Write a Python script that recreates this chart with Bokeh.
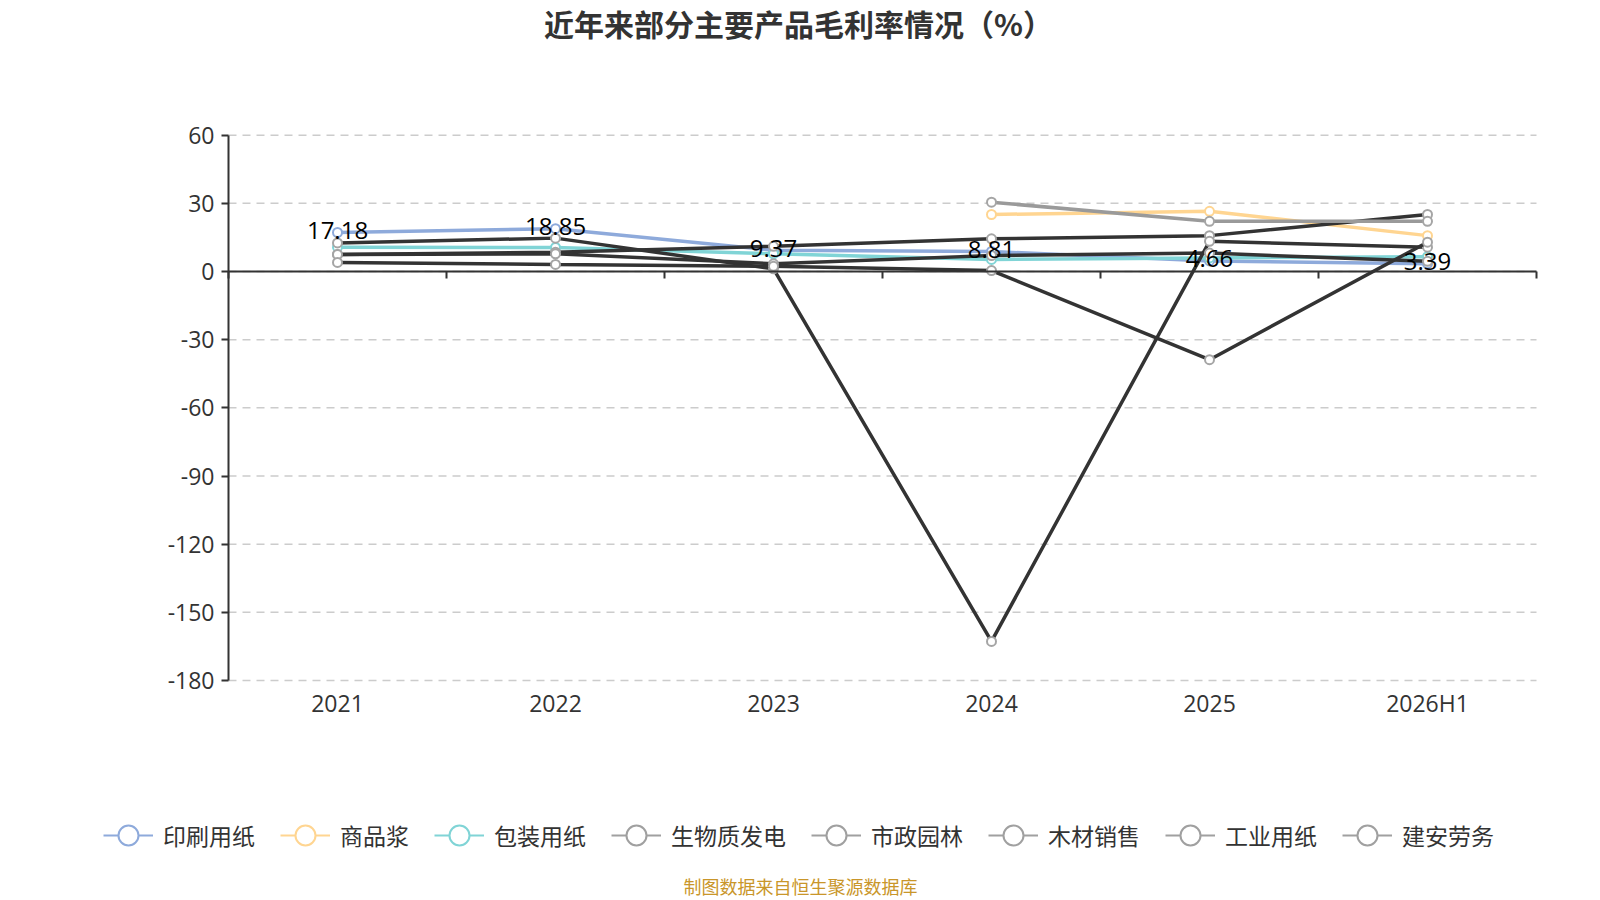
from bokeh.plotting import figure
from bokeh.models import (Range1d, FixedTicker, LinearAxis, Label, Legend,
                          LegendItem, ColumnDataSource)
from bokeh.core.properties import value
from bokeh.embed import file_html
from bokeh.resources import INLINE

nan = float("nan")

# ---------------- data ----------------
categories = ["2021", "2022", "2023", "2024", "2025", "2026H1"]
series_names = ["印刷用纸", "商品浆", "包装用纸", "生物质发电", "市政园林", "木材销售", "工业用纸", "建安劳务"]

printing_paper = [17.18, 18.85, 9.37, 8.81, 4.66, 3.39]
market_pulp = [nan, nan, nan, 25.1, 26.5, 15.8]
packaging_paper = [10.7, 10.6, 7.8, 5.3, 6.0, 6.5]
biomass_power = [7.5, 8.5, 11.1, 14.4, 15.8, 25.1]
municipal_garden = [12.6, 14.7, 1.2, -162.8, 13.3, 10.7]
timber_sales = [nan, nan, nan, 30.5, 22.1, 22.1]
industrial_paper = [7.5, 7.8, 3.4, 7.0, 8.1, 4.5]
construction_labor = [4.0, 3.1, 2.3, 0.4, -38.8, 12.9]

y_ticks = [-180, -150, -120, -90, -60, -30, 0, 30, 60]

all_series = [printing_paper, market_pulp, packaging_paper, biomass_power,
              municipal_garden, timber_sales, industrial_paper, construction_labor]
line_colors = ["#8EAADB", "#FFD591", "#80D4D6", "#333333", "#333333", "#9A9A9A", "#333333", "#333333"]
marker_colors = ["#8EAADB", "#FFD591", "#80D4D6", "#A5A5A5", "#A5A5A5", "#A5A5A5", "#A5A5A5", "#A5A5A5"]
legend_colors = ["#8EAADB", "#FFD591", "#80D4D6", "#A0A0A0", "#A0A0A0", "#A0A0A0", "#A0A0A0", "#A0A0A0"]

FONT = "Noto Sans CJK SC"
NUM_FONT = "Open Sans"

# ---------------- layout (pixels) ----------------
W, H = 1600, 900
AREA_L, AREA_R, AREA_T, AREA_B = 228, 1536, 134.7, 680

n = len(categories)
x_idx = list(range(n))
x_lo, x_hi = -0.5, n - 0.5
y_lo, y_hi = min(y_ticks), max(y_ticks)
xpu = (AREA_R - AREA_L) / (x_hi - x_lo)
ypu = (AREA_B - AREA_T) / (y_hi - y_lo)

p = figure(width=W, height=H, output_backend="svg", toolbar_location=None,
           x_axis_type=None, y_axis_type=None,
           x_range=Range1d(x_lo - AREA_L / xpu, x_hi + (W - AREA_R) / xpu),
           y_range=Range1d(y_lo - (H - AREA_B) / ypu, y_hi + AREA_T / ypu),
           min_border=0)
p.outline_line_color = None
p.background_fill_color = "white"
p.border_fill_color = "white"

# dashed horizontal grid lines
p.segment(x0=[x_lo] * len(y_ticks), x1=[x_hi] * len(y_ticks), y0=y_ticks, y1=y_ticks,
          line_color="#CCCCCC", line_width=1.5, line_dash="8 6")

# y axis
y_axis = LinearAxis(fixed_location=x_lo, bounds=(y_lo, y_hi),
                    ticker=FixedTicker(ticks=y_ticks),
                    major_label_overrides={t: str(t) for t in y_ticks},
                    axis_line_color="#333333", axis_line_width=2,
                    major_tick_out=7, major_tick_in=0,
                    major_tick_line_color="#333333", major_tick_line_width=2,
                    minor_tick_line_color=None, major_label_standoff=7,
                    major_label_text_font=NUM_FONT, major_label_text_font_size="23px",
                    major_label_text_color="#333333")
p.add_layout(y_axis, "left")

# axis line at zero with boundary ticks
zero_axis = LinearAxis(fixed_location=0, bounds=(x_lo, x_hi),
                       ticker=FixedTicker(ticks=[i - 0.5 for i in range(n + 1)]),
                       axis_line_color="#333333", axis_line_width=2,
                       major_tick_out=7, major_tick_in=0,
                       major_tick_line_color="#333333", major_tick_line_width=2,
                       minor_tick_line_color=None,
                       major_label_text_alpha=0, major_label_text_font_size="1px")
p.add_layout(zero_axis, "below")

# category labels at the bottom
x_axis = LinearAxis(fixed_location=y_lo, ticker=FixedTicker(ticks=x_idx),
                    major_label_overrides={i: c for i, c in enumerate(categories)},
                    axis_line_color=None, major_tick_line_color=None,
                    minor_tick_line_color=None, major_tick_out=0, major_tick_in=0,
                    major_label_standoff=6, major_label_text_font=NUM_FONT,
                    major_label_text_font_size="23px", major_label_text_color="#333333")
p.add_layout(x_axis, "below")

# ---------------- series ----------------
for vals, lc, mc in zip(all_series, line_colors, marker_colors):
    src = ColumnDataSource(dict(x=x_idx, y=vals))
    p.line("x", "y", source=src, line_color=lc, line_width=3.5)
    p.scatter("x", "y", source=src, size=9, fill_color="white",
              line_color=mc, line_width=2)

# data labels for 印刷用纸
p.text(x=x_idx, y=printing_paper, text=[f"{v:.2f}" for v in printing_paper],
       text_align="center", text_baseline="middle", y_offset=-2,
       text_font=value(NUM_FONT), text_font_size="24px", text_color="#000000")

# ---------------- legend ----------------
items = []
for name, col in zip(series_names, legend_colors):
    src = ColumnDataSource(dict(x=[nan], y=[nan]))
    lr = p.line("x", "y", source=src, line_color=col, line_width=2)
    sr = p.scatter("x", "y", source=src, size=20, fill_color="white",
                   line_color=col, line_width=2)
    items.append(LegendItem(label=name, renderers=[lr, sr]))

legend = Legend(items=items, orientation="horizontal", location=(103, H - 860),
                glyph_width=50, glyph_height=50, label_standoff=10, spacing=25,
                padding=0, margin=0, border_line_color=None,
                background_fill_alpha=0,
                label_text_font=FONT, label_text_font_size="23px",
                label_text_color="#333333")
p.add_layout(legend, "center")

# ---------------- title & source ----------------
title = Label(x=798, y=H - 22.5, x_units="screen", y_units="screen",
              text="近年来部分主要产品毛利率情况（%）",
              text_align="center", text_baseline="middle",
              text_font=FONT, text_font_size="30px", text_font_style="bold",
              text_color="#333333")
p.add_layout(title)

source = Label(x=800, y=H - 885, x_units="screen", y_units="screen",
               text="制图数据来自恒生聚源数据库",
               text_align="center", text_baseline="middle",
               text_font=FONT, text_font_size="18px",
               text_color="#C9962A")
p.add_layout(source)

open("out.html", "w").write(file_html(p, INLINE))
